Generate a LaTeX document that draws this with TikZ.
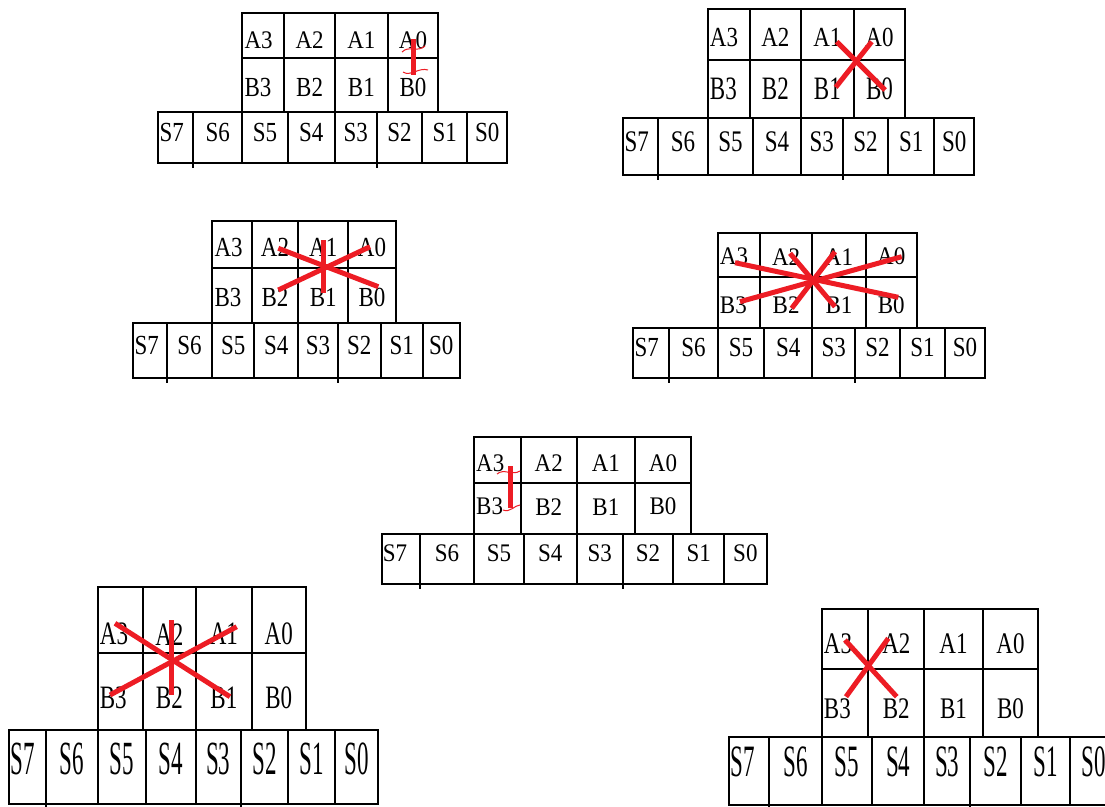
\documentclass[tikz,border=0pt]{standalone}
\usepackage{graphicx}
\usepackage{fontspec}
\setmainfont{Liberation Serif}
\definecolor{markred}{RGB}{237,28,36}

% one grid: name, A/B column edges, S column edges, row edges, text rows, text stretch
\newcommand{\regrid}[6]{%
  \def\acols{{#2}}\def\scols{{#3}}\def\rows{{#4}}\def\trows{{#5}}\def\vstr{{#6}}%
  \foreach \r/\rn in {0/A,1/B} {
    \pgfmathsetmacro\yt{\rows[\r]}
    \pgfmathsetmacro\yb{\rows[\r+1]}
    \pgfmathsetmacro\yl{\trows[\r]}
    \pgfmathsetmacro\vs{\vstr[\r]}
    \foreach \i in {0,...,3} {
      \pgfmathsetmacro\xl{\acols[\i]}
      \pgfmathsetmacro\xr{\acols[\i+1]}
      \pgfmathtruncatemacro\n{3-\i}
      \draw[cell] (\xl,\yt) rectangle (\xr,\yb);
      \ifnum\i=0
        \node[lbl, anchor=west] (#1\rn\n) at (\xl+2,\yl) {\scalebox{1}[\vs]{\rn\n}};
      \else
        \node[lbl] (#1\rn\n) at ({(\xl+\xr)/2},\yl) {\scalebox{1}[\vs]{\rn\n}};
      \fi
    }
  }
  \pgfmathsetmacro\yt{\rows[2]}
  \pgfmathsetmacro\yb{\rows[3]}
  \pgfmathsetmacro\yl{\trows[2]}
  \pgfmathsetmacro\vs{\vstr[2]}
  \foreach \i in {0,...,7} {
    \pgfmathsetmacro\xl{\scols[\i]}
    \pgfmathsetmacro\xr{\scols[\i+1]}
    \pgfmathtruncatemacro\n{7-\i}
    \draw[cell] (\xl,\yt) rectangle (\xr,\yb);
    \ifnum\i=0
      \node[lbl, anchor=west] (#1S\n) at (\xl+1,\yl) {\scalebox{1}[\vs]{S\n}};
    \else
      \node[lbl] (#1S\n) at ({(\xl+\xr)/2},\yl) {\scalebox{1}[\vs]{S\n}};
    \fi
  }
  % little ticks under the S row
  \pgfmathsetmacro\ta{\scols[1]}
  \pgfmathsetmacro\tb{\scols[5]}
  \draw[cell] (\ta,\yb) -- ++(0,5) (\tb,\yb) -- ++(0,5);
}

\begin{document}
\begin{tikzpicture}[x=1pt, y=-1pt,
  cell/.style={draw=black, line width=1.8pt},
  lbl/.style={inner sep=0pt, font=\fontsize{23}{23}\selectfont},
  redstroke/.style={draw=markred, line width=5pt},
  redthin/.style={draw=markred, line width=1pt},
]
  \clip (0,0) rectangle (1105,806);
  \fill[white] (0,0) rectangle (1105,806);

  % Grids
  \regrid{g1}{242.3,284.3,335,387.7,438.3}
    {158.3,193.3,242.3,287.7,335,376.7,422.3,467.3,507.3}
    {12.7,58.3,111.7,163.3}{40,87.5,132.5}{1.1,1.2,1.2}
  \regrid{g2}{707.7,750,800.7,854,905}
    {623.3,658.3,707.7,753.3,800.7,842.7,888.3,934,974.3}
    {9,60,118.3,175}{37.5,89.2,141.7}{1.2,1.42,1.3}
  \regrid{g3}{212.3,251.7,298.3,348.3,395.7}
    {133.3,166.7,212.3,254.3,298.3,337.7,380.7,422.7,460}
    {221,268.3,323.3,378.3}{247.5,297.5,345.8}{1.2,1.2,1.2}
  \regrid{g4}{717.7,760,812.3,865.7,916.7}
    {633.3,669.3,717.7,764.3,812.3,855,900,945,985}
    {232.7,276.7,328.3,378.3}{256.7,305,347.5}{1.1,1.1,1.2}
  \regrid{g5}{474,520.7,576.7,635,691}
    {381.7,420,474,524,576.7,622.7,673.3,724,766.7}
    {437.3,482.7,534,584}{463.3,506.7,553.3}{1.1,1.1,1.1}
  \regrid{g6}{97.7,142.7,196,251.7,305.7}
    {9.3,46,97.7,145.7,196,240.7,288.3,335,378.3}
    {587.3,652.7,730,804}{634.2,697.5,759.2}{1.42,1.42,2.07}
  \regrid{g7}{821.7,868.3,924.3,982.7,1038.3}
    {729.3,769,821.7,872.3,924.3,970,1020.7,1070,1118}
    {609,669,737.3,805}{643.3,708.3,761.7}{1.3,1.3,1.95}

  % Red marks
  \draw[redstroke] (413.5,39) -- (413.5,75);
  \draw[redthin] (402,52) .. controls (409,45) and (417,53) .. (425,46);
  \draw[redthin] (403,72) .. controls (410,77) and (419,67) .. (428,70);

  \draw[redstroke] (836.7,41.7) -- (885,90);
  \draw[redstroke] (871.7,41.7) -- (835.7,87.3);

  \draw[redstroke] (278.3,248.3) -- (378.3,286.7);
  \draw[redstroke] (370,246.7) -- (278.3,290);
  \draw[redstroke] (323.3,240) -- (323.3,293.3);

  \draw[redstroke] (735,262.7) -- (898.3,297.3);
  \draw[redstroke] (901.7,256.7) -- (740,301.7);
  \draw[redstroke] (790,253.3) -- (835,306.7);
  \draw[redstroke] (835,251.7) -- (791.7,308.3);

  \draw[redstroke] (510,466) -- (510,508);
  \draw[redthin] (497,474) .. controls (504,468) and (512,476) .. (520,471);
  \draw[redthin] (503,510) .. controls (510,513) and (515,505) .. (520,505);

  \draw[redstroke] (115,623.3) -- (230,696.7);
  \draw[redstroke] (236.7,626.7) -- (110,695);
  \draw[redstroke] (171,620) -- (171,695);

  \draw[redstroke] (845,640) -- (896.7,696.7);
  \draw[redstroke] (888.3,638.3) -- (846,696.7);
\end{tikzpicture}
\end{document}
